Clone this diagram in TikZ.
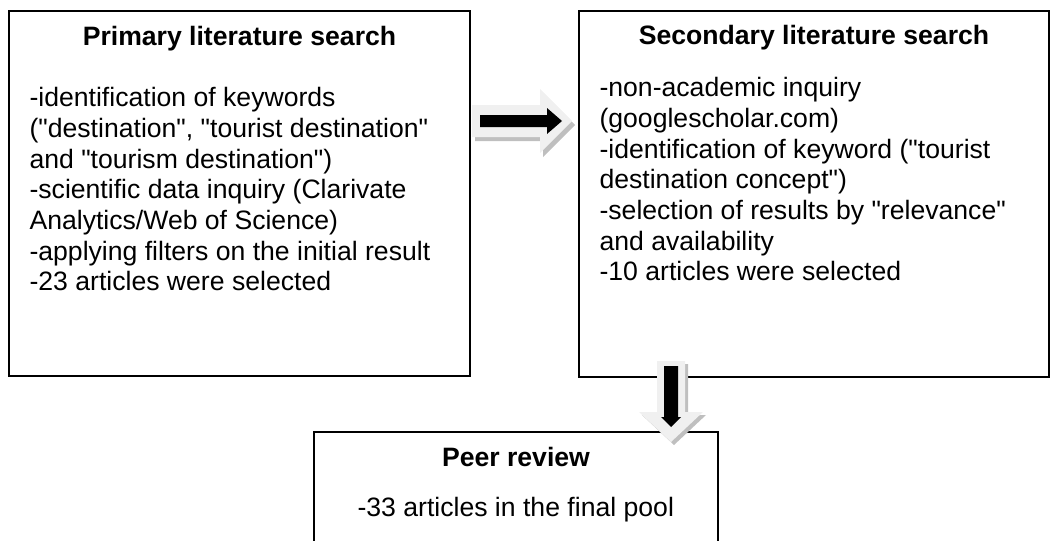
\documentclass[tikz,border=0pt]{standalone}
\usepackage{fontspec}
\setmainfont{Liberation Sans}
\usetikzlibrary{positioning, calc}
\newcommand{\qq}{\textquotedbl}

\begin{document}
\begin{tikzpicture}[x=1pt, y=-1pt,
            box/.style  ={rectangle, draw=black, line width=1.3pt, inner sep=0pt},
            head/.style ={anchor=base, inner sep=0pt, font=\fontsize{26.6}{30.7}\selectfont\bfseries},
            body/.style ={anchor=base west, inner sep=0pt, align=left, font=\fontsize{26.6}{30.7}\selectfont},
            light/.style={fill=gray!12},
            shade/.style={fill=gray!50},
            dark/.style ={fill=black}
        ]
            \clip (0,0) rectangle (1050,541);

            \node[box, minimum width=461pt, minimum height=365pt] (prim) at (239.5,193.5) {};
            \node[box, minimum width=470pt, minimum height=366pt] (sec)  at (814,194) {};
            \node[box, minimum width=404pt, minimum height=128pt] (peer) at (516,496) {};

            % base of a multi-line node is its last line
            \node[head] (primT) at ($(prim.north)+(0,34.7)$) {Primary literature search};
            \node[body] (primB) at ($(prim.north west)+(21,280.5)$)
                {-identification of keywords\\(\qq destination\qq, \qq tourist destination\qq\\and \qq tourism destination\qq)\\-scientific data inquiry (Clarivate\\Analytics/Web of Science)\\-applying filters on the initial result\\-23 articles were selected};

            \node[head] (secT) at ($(sec.north)+(0,34)$) {Secondary literature search};
            \node[body] (secB) at ($(sec.north west)+(21,270.5)$)
                {-non-academic inquiry\\(googlescholar.com)\\-identification of keyword (\qq tourist\\destination concept\qq)\\-selection of results by \qq relevance\qq\\and availability\\-10 articles were selected};

            \node[head] (peerT) at ($(peer.north)+(0,35)$) {Peer review};
            \node[body] (peerB) at ($(peer.north west)+(44,85)$) {-33 articles in the final pool};

            % block arrows
            \coordinate (ra) at (540,121);
            \coordinate (da) at (671,412);
            \fill[shade] ($(ra)+(3,4)$) ++(-68,-16) -- ++(68,0) -- ++(0,-16) -- ++(32,32) -- ++(-32,32) -- ++(0,-16) -- ++(-68,0) -- cycle;
            \fill[light] (ra) ++(-68,-16) -- ++(68,0) -- ++(0,-16) -- ++(32,32) -- ++(-32,32) -- ++(0,-16) -- ++(-68,0) -- cycle;
            \fill[dark]  (ra) ++(-60,-6) -- ++(67,0) -- ++(0,-7) -- ++(15,13) -- ++(-15,13) -- ++(0,-7) -- ++(-67,0) -- cycle;

            \fill[shade] ($(da)+(3,3)$) ++(-14,-51) -- ++(28,0) -- ++(0,51) -- ++(18,0) -- ++(-32,30) -- ++(-32,-30) -- ++(18,0) -- cycle;
            \fill[light] (da) ++(-14,-51) -- ++(28,0) -- ++(0,51) -- ++(18,0) -- ++(-32,30) -- ++(-32,-30) -- ++(18,0) -- cycle;
            \fill[dark]  (da) ++(-7,-46) -- ++(14,0) -- ++(0,51) -- ++(3,0) -- ++(-10,10) -- ++(-10,-10) -- ++(3,0) -- cycle;
        \end{tikzpicture}
\end{document}
